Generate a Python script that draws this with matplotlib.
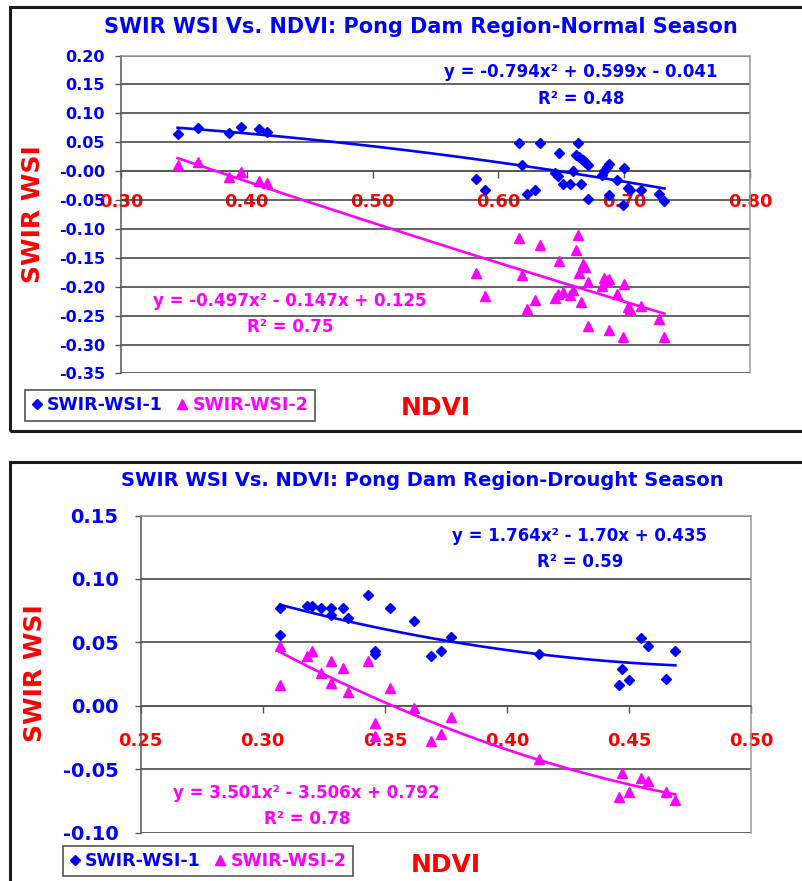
import numpy as np
import matplotlib
matplotlib.use('Agg')
import matplotlib.pyplot as plt
from matplotlib.lines import Line2D
from matplotlib.patches import Rectangle

plt.rcParams['font.family'] = ['DejaVu Sans']
plt.rcParams['font.weight'] = 'bold'

BLUE = '#0000FF'
MAGENTA = '#FF00FF'
RED = '#FF0000'

# ---- Normal season (top chart) ----
ndvi_normal = [0.345, 0.361, 0.386, 0.395, 0.410, 0.416, 0.582, 0.589, 0.616, 0.619,
               0.623, 0.629, 0.633, 0.645, 0.647, 0.648, 0.651, 0.657, 0.659, 0.662,
               0.663, 0.664, 0.666, 0.667, 0.669, 0.671, 0.671, 0.682, 0.684, 0.686,
               0.688, 0.688, 0.694, 0.699, 0.700, 0.703, 0.705, 0.713, 0.728, 0.732]
wsi1_normal = [0.065, 0.074, 0.066, 0.077, 0.073, 0.067, -0.013, -0.032, 0.049, 0.010,
               -0.039, -0.032, 0.049, -0.003, -0.009, 0.032, -0.023, -0.023, 0.001, 0.028,
               0.049, 0.024, -0.022, 0.020, 0.016, 0.011, -0.048, -0.006, 0.001, 0.007,
               0.012, -0.041, -0.015, -0.058, 0.006, -0.029, -0.033, -0.032, -0.039, -0.051]
wsi2_normal = [0.010, 0.015, -0.010, -0.002, -0.017, -0.020, -0.177, -0.216, -0.116, -0.180,
               -0.238, -0.223, -0.128, -0.219, -0.212, -0.156, -0.209, -0.215, -0.206, -0.137,
               -0.111, -0.176, -0.226, -0.160, -0.166, -0.192, -0.267, -0.199, -0.185, -0.190,
               -0.187, -0.274, -0.212, -0.287, -0.196, -0.235, -0.238, -0.234, -0.255, -0.287]

# ---- Drought season (bottom chart) ----
ndvi_drought = [0.307, 0.307, 0.318, 0.320, 0.324, 0.328, 0.328, 0.333, 0.335, 0.343,
                0.346, 0.346, 0.352, 0.362, 0.369, 0.373, 0.377, 0.413, 0.446, 0.447,
                0.450, 0.455, 0.458, 0.465, 0.469]
wsi1_drought = [0.077, 0.056, 0.079, 0.079, 0.077, 0.077, 0.0715, 0.077, 0.069, 0.087,
                0.043, 0.041, 0.077, 0.067, 0.039, 0.043, 0.054, 0.041, 0.016, 0.029,
                0.020, 0.053, 0.047, 0.021, 0.043]
wsi2_drought = [0.047, 0.016, 0.039, 0.043, 0.026, 0.018, 0.035, 0.030, 0.011, 0.035,
                -0.014, -0.024, 0.014, -0.002, -0.028, -0.022, -0.009, -0.042, -0.072, -0.053,
                -0.068, -0.057, -0.059, -0.068, -0.074]

charts = [
    dict(title='SWIR WSI Vs. NDVI: Pong Dam Region-Normal Season',
         x=ndvi_normal, y1=wsi1_normal, y2=wsi2_normal,
         eq1='y = -0.794x² + 0.599x - 0.041', r1='R² = 0.48',
         eq2='y = -0.497x² - 0.147x + 0.125', r2='R² = 0.75',
         xlim=(0.30, 0.80), xstep=0.10, ylim=(-0.35, 0.20), ystep=0.05),
    dict(title='SWIR WSI Vs. NDVI: Pong Dam Region-Drought Season',
         x=ndvi_drought, y1=wsi1_drought, y2=wsi2_drought,
         eq1='y = 1.764x² - 1.70x + 0.435', r1='R² = 0.59',
         eq2='y = 3.501x² - 3.506x + 0.792', r2='R² = 0.78',
         xlim=(0.25, 0.50), xstep=0.05, ylim=(-0.10, 0.15), ystep=0.05),
]

W, H = 803, 881
fig = plt.figure(figsize=(W / 100, H / 100), dpi=100)


def fx(px):
    return px / W


def fy(py):
    return 1 - py / H


# outer frames of the two chart objects
fig.patches.append(Rectangle((fx(10), fy(431)), fx(800), 424 / H, transform=fig.transFigure,
                             fill=False, edgecolor='#1a1a1a', lw=2.2))
fig.patches.append(Rectangle((fx(10), fy(900)), fx(800), 438 / H, transform=fig.transFigure,
                             fill=False, edgecolor='#1a1a1a', lw=2.2))

# layout in pixels: plot area, title, labels, legend, equations
layouts = [
    dict(box=(121, 55.5, 750, 373.5), title_y=27, title_x=421, title_fs=15,
         ytick_fs=11.5, ytick_pad=7, xtick_pad=10.5, ylab=(33, 214), xlab=(436, 408),
         leg=(170, 405.5), eq1=(581, 72), r1=(581, 99), eq2=(290, 301), r2=(290, 327)),
    dict(box=(140.7, 515.5, 751, 832.5), title_y=481, title_x=422, title_fs=14,
         ytick_fs=14, ytick_pad=11.5, xtick_pad=14, ylab=(35, 673), xlab=(446, 865),
         leg=(208, 861), eq1=(580, 536), r1=(580, 562), eq2=(306, 793), r2=(307, 819)),
]

for c, L in zip(charts, layouts):
    x0, y0, x1, y1 = L['box']
    ax = fig.add_axes([fx(x0), fy(y1), (x1 - x0) / W, (y1 - y0) / H])
    ax.set_axisbelow(True)

    x = np.array(c['x'])
    for ys, col, mk, ms in [(c['y1'], BLUE, 'D', 5.5), (c['y2'], MAGENTA, '^', 7)]:
        ax.plot(x, ys, linestyle='none', marker=mk, color=col, markersize=ms, zorder=4)
        # Excel style 2nd order polynomial trend line
        coef = np.polyfit(x, ys, 2)
        xx = np.linspace(x.min(), x.max(), 100)
        ax.plot(xx, np.polyval(coef, xx), color=col, lw=1.9, zorder=3)

    ax.set_xlim(*c['xlim'])
    ax.set_ylim(*c['ylim'])
    ax.set_xticks(np.arange(c['xlim'][0], c['xlim'][1] + 1e-9, c['xstep']))
    ax.set_yticks(np.arange(c['ylim'][0], c['ylim'][1] + 1e-9, c['ystep']))
    ax.xaxis.set_major_formatter(plt.FormatStrFormatter('%.2f'))
    ax.yaxis.set_major_formatter(plt.FormatStrFormatter('%.2f'))
    ax.yaxis.grid(True, color='#3a3a3a', lw=1.1)

    # x axis crosses at y = 0, like in Excel
    ax.spines['bottom'].set_position(('data', 0))
    ax.spines['bottom'].set_color('#555555')
    ax.spines['left'].set_color('#555555')
    ax.spines['top'].set_color('#999999')
    ax.spines['right'].set_color('#999999')
    for s in ax.spines.values():
        s.set_linewidth(1.1)

    ax.tick_params(axis='x', direction='out', length=5, width=1, color='#555555',
                   pad=L['xtick_pad'], labelsize=13, labelcolor=RED)
    ax.tick_params(axis='y', direction='out', length=4.5, width=1, color='#555555',
                   pad=L['ytick_pad'], labelsize=L['ytick_fs'], labelcolor=BLUE)
    for t in ax.get_xticklabels() + ax.get_yticklabels():
        t.set_fontweight('bold')

    fig.text(fx(L['title_x']), fy(L['title_y']), c['title'], color=BLUE, fontsize=L['title_fs'],
             fontweight='bold', ha='center', va='center')
    fig.text(fx(L['ylab'][0]), fy(L['ylab'][1]), 'SWIR WSI', color=RED, fontsize=18,
             fontweight='bold', rotation=90, ha='center', va='center')
    fig.text(fx(L['xlab'][0]), fy(L['xlab'][1]), 'NDVI', color=RED, fontsize=18,
             fontweight='bold', ha='center', va='center')

    for key, col in [('eq1', BLUE), ('r1', BLUE), ('eq2', MAGENTA), ('r2', MAGENTA)]:
        fig.text(fx(L[key][0]), fy(L[key][1]), c[key], color=col, fontsize=12,
                 fontweight='bold', ha='center', va='center')

    handles = [Line2D([], [], linestyle='none', marker='D', color=BLUE, markersize=5),
               Line2D([], [], linestyle='none', marker='^', color=MAGENTA, markersize=6.5)]
    leg = fig.legend(handles, ['SWIR-WSI-1', 'SWIR-WSI-2'], loc='center', ncol=2,
                     bbox_to_anchor=(fx(L['leg'][0]), fy(L['leg'][1])), fancybox=False,
                     edgecolor='#555555', framealpha=1, handlelength=0.6, handletextpad=0.3,
                     columnspacing=0.8, borderpad=0.35,
                     prop={'size': 12.5, 'weight': 'bold'})
    leg.get_frame().set_linewidth(1.2)
    for t, col in zip(leg.get_texts(), [BLUE, MAGENTA]):
        t.set_color(col)

fig.savefig('out.png', dpi=100)
